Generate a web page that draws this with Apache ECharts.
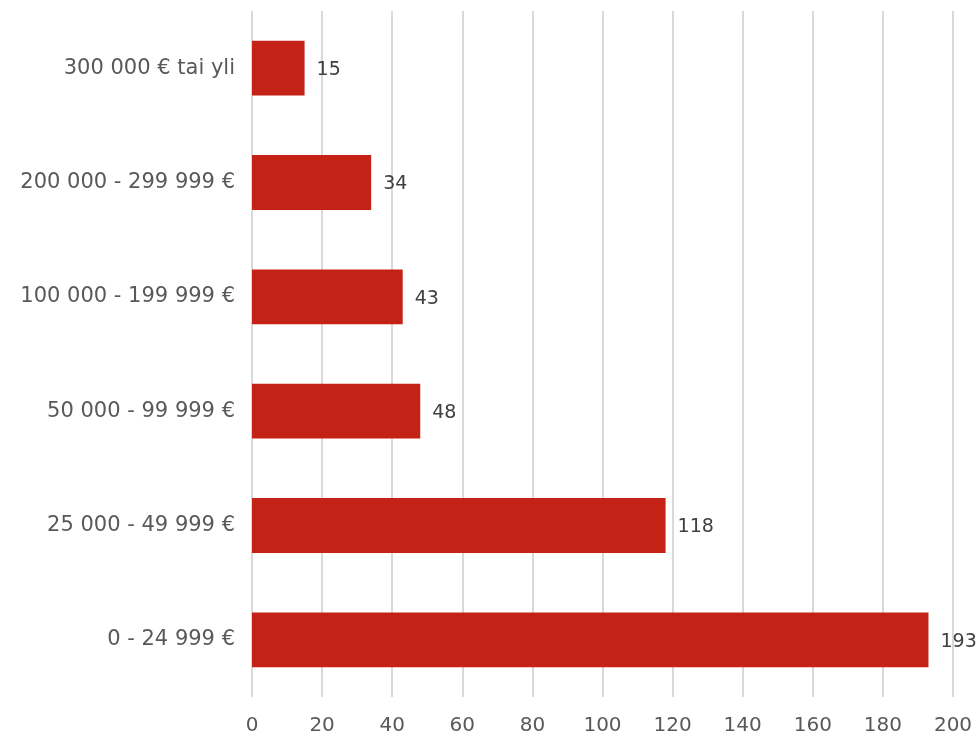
<!DOCTYPE html>
<html>
<head>
<meta charset="utf-8">
<script src="https://cdn.jsdelivr.net/npm/echarts@6/dist/echarts.min.js"></script>
<style>
  html, body { margin: 0; padding: 0; background: #fff; }
  #chart { width: 977px; height: 738px; }
</style>
</head>
<body>
<div id="chart"></div>
<script>
// tulokategoriat alhaalta ylös
var categories = ['0 - 24 999 €', '25 000 - 49 999 €', '50 000 - 99 999 €', '100 000 - 199 999 €', '200 000 - 299 999 €', '300 000 € tai yli'];
var values = [193, 118, 48, 43, 34, 15];
var xMax = 200;
var xStep = 20;

var font = 'DejaVu Sans';
var myChart = echarts.init(document.getElementById('chart'));

var option = {
  animation: false,
  grid: {
    left: 252,
    right: 24,
    top: 11,
    bottom: 41
  },
  xAxis: {
    type: 'value',
    min: 0,
    max: xMax,
    interval: xStep,
    axisLine: { show: false },
    axisTick: { show: false },
    splitLine: {
      lineStyle: { color: '#d9d9d9', width: 2 }
    },
    axisLabel: {
      color: '#595959',
      fontSize: 20,
      fontFamily: font,
      margin: 19
    }
  },
  yAxis: {
    type: 'category',
    data: categories,
    axisLine: { show: false },
    axisTick: { show: false },
    axisLabel: {
      color: '#595959',
      fontSize: 21,
      fontFamily: font,
      margin: 17
    }
  },
  series: [{
    type: 'bar',
    data: values,
    barCategoryGap: '52%',
    itemStyle: { color: '#c42217' },
    label: {
      show: true,
      position: 'right',
      distance: 12,
      offset: [0, 2],
      color: '#404040',
      fontSize: 19,
      fontFamily: font
    }
  }]
};

myChart.setOption(option);
</script>
</body>
</html>
